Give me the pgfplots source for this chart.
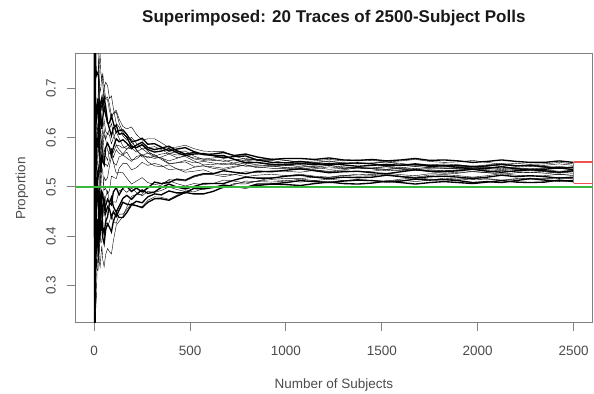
\documentclass[border=0pt]{standalone}
\usepackage{fontspec}
\setmainfont{Liberation Sans}
\usepackage{pgfplots}
\pgfplotsset{compat=1.18}
\definecolor{rgreen}{RGB}{60,185,60}
\definecolor{myred}{RGB}{240,80,80}
\begin{document}
\begin{tikzpicture}
\useasboundingbox (0,0) rectangle (594bp,394bp);
\begin{axis}[
  at={(75bp,71bp)}, anchor=south west,
  scale only axis, width=517.7bp, height=269bp,
  xmin=-100, xmax=2600, ymin=0.2236, ymax=0.7703,
  xtick={0,500,1000,1500,2000,2500}, xticklabels={0,500,1000,1500,2000,2500},
  ytick={0.3,0.4,0.5,0.6,0.7}, yticklabels={0.3,0.4,0.5,0.6,0.7},
  tick align=outside, xtick pos=bottom, ytick pos=left,
  major tick length=8bp,
  axis line style={black!50, line width=1bp},
  every tick/.style={black!50, line width=1bp},
  tick label style={font=\fontsize{13.5bp}{16bp}\selectfont, text=black!70, inner sep=0pt},
  yticklabel style={rotate=90, anchor=south},
  xticklabel style={anchor=north},
  xticklabel shift=15bp, yticklabel shift=11bp,
  title={Superimposed: 20 Traces of 2500-Subject Polls},
  title style={font=\bfseries\fontsize{17bp}{20bp}\selectfont, at={(axis description cs:0.5,1.0967)}, anchor=base, text=black!90, inner sep=0pt},
  xlabel={Number of Subjects},
  xlabel style={font=\fontsize{13.5bp}{16bp}\selectfont, at={(axis description cs:0.5,-0.2305)}, anchor=center, text=black!70, inner sep=0pt},
  ylabel={Proportion},
  ylabel style={font=\fontsize{13.5bp}{16bp}\selectfont, at={(axis description cs:-0.1024,0.5)}, anchor=center, text=black!70, inner sep=0pt},
  cycle list={{black, line width=1.35bp, mark=none}},
]
% 20 traces: cumulative proportion vs number of subjects
\addplot coordinates {(1,1) (2,1) (3,.667) (4,.75) (6,.667) (8,.75) (11,.636) (15,.667) (20,.680) (24,.714) (27,.678) (31,.661) (35,.673) (40,.655) (45,.686) (52,.703) (60,.680) (70,.683) (80,.668) (90,.644) (100,.650) (115,.656) (130,.638) (150,.623) (170,.618) (195,.622) (220,.607) (250,.595) (280,.598) (315,.598) (350,.590) (390,.580) (430,.581) (475,.585) (520,.578) (570,.573) (620,.572) (675,.572) (730,.563) (790,.556) (850,.556) (925,.557) (1000,.554) (1075,.551) (1150,.553) (1225,.556) (1300,.553) (1375,.555) (1450,.554) (1525,.551) (1600,.553) (1675,.556) (1750,.552) (1825,.550) (1900,.551) (1975,.554) (2050,.550) (2125,.546) (2200,.548) (2275,.546) (2350,.547) (2425,.550) (2500,.547)};
\addplot coordinates {(1,0) (2,.5) (3,.333) (4,.25) (6,.333) (8,.375) (11,.364) (15,.4) (20,.430) (24,.390) (27,.419) (31,.403) (35,.416) (40,.432) (45,.397) (52,.385) (60,.413) (70,.425) (80,.418) (90,.409) (100,.430) (115,.446) (130,.438) (150,.438) (170,.448) (195,.464) (220,.462) (250,.458) (280,.469) (315,.476) (350,.476) (390,.473) (430,.481) (475,.489) (520,.486) (570,.486) (620,.491) (675,.500) (730,.500) (790,.499) (850,.506) (925,.506) (1000,.509) (1075,.513) (1150,.511) (1225,.509) (1300,.512) (1375,.514) (1450,.513) (1525,.510) (1600,.512) (1675,.516) (1750,.514) (1825,.515) (1900,.513) (1975,.509) (2050,.511) (2125,.509) (2200,.513) (2275,.517) (2350,.514) (2425,.512) (2500,.513)};
\addplot coordinates {(1,1) (2,1) (3,1) (4,.75) (6,.833) (8,.75) (11,.727) (15,.733) (20,.730) (24,.758) (27,.715) (31,.693) (35,.701) (40,.730) (45,.708) (52,.674) (60,.680) (70,.677) (80,.655) (90,.638) (100,.650) (115,.652) (130,.630) (150,.611) (170,.601) (195,.597) (220,.575) (250,.564) (280,.569) (315,.566) (350,.556) (390,.547) (430,.549) (475,.551) (520,.542) (570,.543) (620,.538) (675,.535) (730,.540) (790,.545) (850,.541) (925,.538) (1000,.538) (1075,.540) (1150,.535) (1225,.531) (1300,.533) (1375,.531) (1450,.532) (1525,.536) (1600,.533) (1675,.535) (1750,.531) (1825,.528) (1900,.530) (1975,.531) (2050,.529) (2125,.533) (2200,.530) (2275,.529) (2350,.531) (2425,.528) (2500,.531)};
\addplot coordinates {(1,0) (2,0) (3,.333) (4,.25) (6,.167) (8,.25) (11,.273) (15,.333) (20,.330) (24,.373) (27,.345) (31,.337) (35,.359) (40,.381) (45,.352) (52,.338) (60,.363) (70,.375) (80,.368) (90,.364) (100,.390) (115,.422) (130,.430) (150,.440) (170,.459) (195,.481) (220,.485) (250,.485) (280,.501) (315,.499) (350,.504) (390,.515) (430,.514) (475,.512) (520,.520) (570,.525) (620,.525) (675,.521) (730,.525) (790,.531) (850,.529) (925,.533) (1000,.532) (1075,.530) (1150,.534) (1225,.532) (1300,.535) (1375,.539) (1450,.537) (1525,.536) (1600,.538) (1675,.535) (1750,.538) (1825,.539) (1900,.537) (1975,.541) (2050,.538) (2125,.535) (2200,.538) (2275,.537) (2350,.539) (2425,.542) (2500,.539)};
\addplot coordinates {(1,1) (2,.5) (3,.667) (4,.5) (6,.5) (8,.625) (11,.545) (15,.6) (20,.580) (24,.627) (27,.604) (31,.552) (35,.530) (40,.566) (45,.552) (52,.546) (60,.580) (70,.589) (80,.580) (90,.565) (100,.580) (115,.598) (130,.592) (150,.596) (170,.589) (195,.578) (220,.585) (250,.591) (280,.580) (315,.576) (350,.579) (390,.583) (430,.574) (475,.567) (520,.570) (570,.566) (620,.567) (675,.570) (730,.564) (790,.567) (850,.561) (925,.556) (1000,.558) (1075,.558) (1150,.556) (1225,.559) (1300,.555) (1375,.554) (1450,.556) (1525,.553) (1600,.555) (1675,.558) (1750,.554) (1825,.555) (1900,.553) (1975,.550) (2050,.552) (2125,.555) (2200,.552) (2275,.550) (2350,.550) (2425,.553) (2500,.550)};
\addplot coordinates {(1,0) (2,.5) (3,.667) (4,.5) (6,.667) (8,.5) (11,.455) (15,.467) (20,.480) (24,.503) (27,.456) (31,.464) (35,.501) (40,.541) (45,.530) (52,.494) (60,.497) (70,.486) (80,.493) (90,.522) (100,.520) (115,.517) (130,.538) (150,.548) (170,.548) (195,.535) (220,.539) (250,.550) (280,.544) (315,.548) (350,.544) (390,.535) (430,.537) (475,.530) (520,.532) (570,.535) (620,.528) (675,.525) (730,.526) (790,.521) (850,.524) (925,.526) (1000,.523) (1075,.526) (1150,.522) (1225,.520) (1300,.524) (1375,.522) (1450,.523) (1525,.526) (1600,.522) (1675,.520) (1750,.524) (1825,.525) (1900,.523) (1975,.520) (2050,.523) (2125,.527) (2200,.524) (2275,.522) (2350,.523) (2425,.526) (2500,.523)};
\addplot coordinates {(1,1) (2,.5) (3,.333) (4,.5) (6,.667) (8,.625) (11,.636) (15,.6) (20,.630) (24,.671) (27,.641) (31,.629) (35,.587) (40,.578) (45,.619) (52,.636) (60,.613) (70,.607) (80,.618) (90,.629) (100,.610) (115,.585) (130,.584) (150,.579) (170,.583) (195,.591) (220,.580) (250,.585) (280,.573) (315,.563) (350,.567) (390,.569) (430,.565) (475,.566) (520,.557) (570,.554) (620,.556) (675,.552) (730,.555) (790,.558) (850,.554) (925,.554) (1000,.549) (1075,.546) (1150,.549) (1225,.552) (1300,.548) (1375,.547) (1450,.548) (1525,.551) (1600,.548) (1675,.544) (1750,.545) (1825,.547) (1900,.545) (1975,.542) (2050,.545) (2125,.548) (2200,.544) (2275,.543) (2350,.544) (2425,.547) (2500,.544)};
\addplot coordinates {(1,1) (2,.5) (3,.333) (4,.25) (6,.333) (8,.375) (11,.364) (15,.4) (20,.380) (24,.365) (27,.419) (31,.433) (35,.416) (40,.415) (45,.463) (52,.475) (60,.447) (70,.460) (80,.455) (90,.438) (100,.450) (115,.440) (130,.453) (150,.469) (170,.465) (195,.464) (220,.471) (250,.468) (280,.480) (315,.486) (350,.484) (390,.492) (430,.488) (475,.488) (520,.497) (570,.496) (620,.499) (675,.504) (730,.501) (790,.498) (850,.503) (925,.506) (1000,.505) (1075,.503) (1150,.507) (1225,.510) (1300,.507) (1375,.506) (1450,.508) (1525,.512) (1600,.509) (1675,.506) (1750,.509) (1825,.511) (1900,.509) (1975,.507) (2050,.510) (2125,.513) (2200,.510) (2275,.509) (2350,.510) (2425,.514) (2500,.511)};
\addplot coordinates {(1,0) (2,.5) (3,.667) (4,.75) (6,.667) (8,.5) (11,.545) (15,.533) (20,.530) (24,.514) (27,.567) (31,.562) (35,.587) (40,.595) (45,.552) (52,.578) (60,.563) (70,.554) (80,.580) (90,.578) (100,.560) (115,.576) (130,.568) (150,.565) (170,.571) (195,.555) (220,.557) (250,.566) (280,.559) (315,.563) (350,.559) (390,.553) (430,.558) (475,.564) (520,.559) (570,.557) (620,.559) (675,.562) (730,.557) (790,.553) (850,.556) (925,.557) (1000,.554) (1075,.549) (1150,.550) (1225,.553) (1300,.549) (1375,.548) (1450,.549) (1525,.551) (1600,.546) (1675,.542) (1750,.544) (1825,.545) (1900,.542) (1975,.539) (2050,.542) (2125,.545) (2200,.542) (2275,.544) (2350,.542) (2425,.539) (2500,.541)};
\addplot coordinates {(1,1) (2,1) (3,.667) (4,.75) (6,.833) (8,.875) (11,.818) (15,.8) (20,.780) (24,.731) (27,.752) (31,.771) (35,.730) (40,.718) (45,.730) (52,.702) (60,.713) (70,.706) (80,.680) (90,.685) (100,.660) (115,.629) (130,.622) (150,.604) (170,.595) (195,.601) (220,.589) (250,.577) (280,.580) (315,.582) (350,.576) (390,.568) (430,.572) (475,.573) (520,.563) (570,.556) (620,.554) (675,.555) (730,.548) (790,.542) (850,.543) (925,.543) (1000,.539) (1075,.535) (1150,.537) (1225,.541) (1300,.538) (1375,.537) (1450,.538) (1525,.541) (1600,.537) (1675,.533) (1750,.535) (1825,.533) (1900,.534) (1975,.537) (2050,.533) (2125,.530) (2200,.532) (2275,.533) (2350,.531) (2425,.529) (2500,.532)};
\addplot coordinates {(1,0) (2,0) (3,.333) (4,.5) (6,.5) (8,.375) (11,.455) (15,.4) (20,.430) (24,.427) (27,.493) (31,.484) (35,.444) (40,.457) (45,.419) (52,.405) (60,.430) (70,.440) (80,.468) (90,.479) (100,.460) (115,.449) (130,.461) (150,.477) (170,.483) (195,.475) (220,.485) (250,.494) (280,.487) (315,.490) (350,.499) (390,.506) (430,.500) (475,.496) (520,.501) (570,.507) (620,.507) (675,.507) (730,.514) (790,.520) (850,.518) (925,.518) (1000,.522) (1075,.524) (1150,.520) (1225,.517) (1300,.520) (1375,.519) (1450,.520) (1525,.524) (1600,.521) (1675,.518) (1750,.521) (1825,.522) (1900,.520) (1975,.517) (2050,.520) (2125,.524) (2200,.521) (2275,.523) (2350,.521) (2425,.518) (2500,.520)};
\addplot coordinates {(1,1) (2,.5) (3,.333) (4,.5) (6,.5) (8,.625) (11,.545) (15,.533) (20,.580) (24,.590) (27,.530) (31,.531) (35,.501) (40,.469) (45,.486) (52,.520) (60,.513) (70,.519) (80,.543) (90,.562) (100,.550) (115,.544) (130,.561) (150,.565) (170,.559) (195,.552) (220,.562) (250,.565) (280,.551) (315,.543) (350,.541) (390,.545) (430,.537) (475,.534) (520,.540) (570,.543) (620,.541) (675,.538) (730,.542) (790,.545) (850,.539) (925,.542) (1000,.540) (1075,.537) (1150,.540) (1225,.544) (1300,.541) (1375,.539) (1450,.539) (1525,.542) (1600,.539) (1675,.537) (1750,.540) (1825,.538) (1900,.538) (1975,.542) (2050,.539) (2125,.542) (2200,.538) (2275,.535) (2350,.538) (2425,.540) (2500,.538)};
\addplot coordinates {(1,0) (2,.5) (3,.333) (4,.25) (6,.5) (8,.5) (11,.455) (15,.467) (20,.480) (24,.470) (27,.530) (31,.560) (35,.559) (40,.553) (45,.597) (52,.617) (60,.597) (70,.574) (80,.568) (90,.574) (100,.550) (115,.528) (130,.530) (150,.529) (170,.518) (195,.506) (220,.512) (250,.519) (280,.509) (315,.505) (350,.507) (390,.513) (430,.507) (475,.502) (520,.507) (570,.505) (620,.507) (675,.514) (730,.512) (790,.508) (850,.512) (925,.515) (1000,.513) (1075,.510) (1150,.513) (1225,.516) (1300,.513) (1375,.515) (1450,.513) (1525,.511) (1600,.514) (1675,.511) (1750,.514) (1825,.518) (1900,.516) (1975,.515) (2050,.516) (2125,.513) (2200,.516) (2275,.518) (2350,.516) (2425,.519) (2500,.516)};
\addplot coordinates {(1,1) (2,1) (3,.667) (4,.5) (6,.667) (8,.625) (11,.636) (15,.667) (20,.680) (24,.607) (27,.604) (31,.639) (35,.644) (40,.618) (45,.641) (52,.664) (60,.647) (70,.630) (80,.630) (90,.645) (100,.630) (115,.611) (130,.615) (150,.616) (170,.607) (195,.592) (220,.594) (250,.599) (280,.587) (315,.588) (350,.581) (390,.573) (430,.577) (475,.580) (520,.572) (570,.566) (620,.564) (675,.564) (730,.556) (790,.549) (850,.550) (925,.546) (1000,.545) (1075,.548) (1150,.545) (1225,.548) (1300,.545) (1375,.542) (1450,.544) (1525,.546) (1600,.544) (1675,.547) (1750,.544) (1825,.543) (1900,.544) (1975,.541) (2050,.543) (2125,.546) (2200,.543) (2275,.544) (2350,.541) (2425,.538) (2500,.540)};
\addplot coordinates {(1,0) (2,.5) (3,.333) (4,.5) (6,.333) (8,.25) (11,.364) (15,.333) (20,.380) (24,.346) (27,.382) (31,.400) (35,.387) (40,.389) (45,.441) (52,.456) (60,.430) (70,.421) (80,.430) (90,.445) (100,.430) (115,.426) (130,.445) (150,.445) (170,.454) (195,.467) (220,.462) (250,.460) (280,.473) (315,.480) (350,.479) (390,.475) (430,.483) (475,.492) (520,.490) (570,.497) (620,.499) (675,.499) (730,.507) (790,.506) (850,.512) (925,.519) (1000,.517) (1075,.517) (1150,.520) (1225,.519) (1300,.523) (1375,.526) (1450,.525) (1525,.528) (1600,.525) (1675,.523) (1750,.527) (1825,.526) (1900,.528) (1975,.532) (2050,.529) (2125,.526) (2200,.529) (2275,.530) (2350,.528) (2425,.525) (2500,.527)};
\addplot coordinates {(1,1) (2,.5) (3,.667) (4,.75) (6,.5) (8,.625) (11,.545) (15,.6) (20,.630) (24,.564) (27,.567) (31,.607) (35,.616) (40,.570) (45,.574) (52,.606) (60,.597) (70,.610) (80,.605) (90,.588) (100,.600) (115,.612) (130,.599) (150,.583) (170,.577) (195,.586) (220,.576) (250,.561) (280,.562) (315,.558) (350,.561) (390,.567) (430,.560) (475,.562) (520,.553) (570,.545) (620,.546) (675,.548) (730,.545) (790,.549) (850,.545) (925,.543) (1000,.545) (1075,.541) (1150,.542) (1225,.544) (1300,.539) (1375,.540) (1450,.537) (1525,.533) (1600,.535) (1675,.537) (1750,.533) (1825,.533) (1900,.535) (1975,.538) (2050,.535) (2125,.533) (2200,.536) (2275,.537) (2350,.535) (2425,.532) (2500,.534)};
\addplot coordinates {(1,1) (2,.5) (3,.333) (4,.5) (6,.5) (8,.375) (11,.455) (15,.533) (20,.480) (24,.433) (27,.456) (31,.435) (35,.444) (40,.490) (45,.486) (52,.455) (60,.463) (70,.475) (80,.468) (90,.464) (100,.490) (115,.499) (130,.484) (150,.498) (170,.501) (195,.491) (220,.498) (250,.490) (280,.498) (315,.510) (350,.507) (390,.509) (430,.516) (475,.514) (520,.522) (570,.527) (620,.527) (675,.533) (730,.530) (790,.527) (850,.532) (925,.531) (1000,.534) (1075,.537) (1150,.533) (1225,.529) (1300,.531) (1375,.532) (1450,.529) (1525,.527) (1600,.531) (1675,.535) (1750,.532) (1825,.531) (1900,.533) (1975,.536) (2050,.532) (2125,.530) (2200,.533) (2275,.535) (2350,.533) (2425,.530) (2500,.533)};
\addplot coordinates {(1,0) (2,.5) (3,.333) (4,.5) (6,.667) (8,.625) (11,.545) (15,.533) (20,.530) (24,.547) (27,.493) (31,.497) (35,.530) (40,.577) (45,.574) (52,.541) (60,.547) (70,.542) (80,.555) (90,.578) (100,.570) (115,.585) (130,.576) (150,.567) (170,.577) (195,.579) (220,.571) (250,.578) (280,.569) (315,.561) (350,.559) (390,.548) (430,.549) (475,.554) (520,.549) (570,.552) (620,.549) (675,.545) (730,.549) (790,.553) (850,.549) (925,.545) (1000,.544) (1075,.545) (1150,.540) (1225,.536) (1300,.538) (1375,.540) (1450,.538) (1525,.536) (1600,.539) (1675,.542) (1750,.539) (1825,.538) (1900,.540) (1975,.543) (2050,.540) (2125,.537) (2200,.540) (2275,.542) (2350,.540) (2425,.537) (2500,.540)};
\addplot coordinates {(1,1) (2,.5) (3,.667) (4,.5) (6,.333) (8,.5) (11,.364) (15,.4) (20,.430) (24,.460) (27,.419) (31,.461) (35,.473) (40,.432) (45,.441) (52,.441) (60,.480) (70,.492) (80,.468) (90,.462) (100,.470) (115,.469) (130,.492) (150,.496) (170,.489) (195,.498) (220,.489) (250,.482) (280,.491) (315,.489) (350,.493) (390,.500) (430,.495) (475,.491) (520,.497) (570,.501) (620,.499) (675,.498) (730,.505) (790,.512) (850,.511) (925,.510) (1000,.512) (1075,.516) (1150,.513) (1225,.510) (1300,.513) (1375,.515) (1450,.513) (1525,.512) (1600,.516) (1675,.519) (1750,.516) (1825,.515) (1900,.516) (1975,.520) (2050,.517) (2125,.514) (2200,.517) (2275,.516) (2350,.517) (2425,.520) (2500,.517)};
\addplot coordinates {(1,1) (2,1) (3,.667) (4,.75) (6,.833) (8,.75) (11,.727) (15,.733) (20,.730) (24,.721) (27,.641) (31,.627) (35,.673) (40,.681) (45,.663) (52,.683) (60,.663) (70,.632) (80,.618) (90,.604) (100,.620) (115,.626) (130,.607) (150,.609) (170,.601) (195,.582) (220,.580) (250,.586) (280,.576) (315,.571) (350,.573) (390,.578) (430,.570) (475,.564) (520,.567) (570,.568) (620,.564) (675,.559) (730,.562) (790,.563) (850,.555) (925,.550) (1000,.549) (1075,.552) (1150,.548) (1225,.545) (1300,.548) (1375,.549) (1450,.547) (1525,.543) (1600,.544) (1675,.546) (1750,.542) (1825,.543) (1900,.540) (1975,.536) (2050,.538) (2125,.541) (2200,.537) (2275,.535) (2350,.536) (2425,.539) (2500,.535)};
% reference line and final range bracket
\addplot[draw=rgreen, line width=1.6bp, mark=none] coordinates {(-100,0.5) (2600,0.5)};
\addplot[draw=myred, line width=1.6bp, mark=none] coordinates {(2500,0.5514) (2600,0.5514)};
\addplot[draw=myred, line width=1.6bp, mark=none] coordinates {(2500,0.5075) (2600,0.5075)};
\addplot[draw=myred, line width=1.2bp, mark=none] coordinates {(2500,0.5075) (2500,0.5514)};
\end{axis}
\end{tikzpicture}
\end{document}
